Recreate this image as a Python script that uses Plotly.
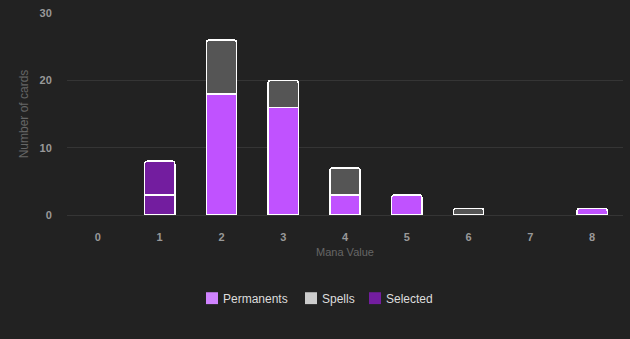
import plotly.graph_objects as go

# Card counts per mana value
mana_values = [0, 1, 2, 3, 4, 5, 6, 7, 8]
permanents = [0, 3, 18, 16, 3, 3, 0, 0, 1]
spells = [0, 5, 8, 4, 4, 0, 1, 0, 0]
selected_value = 1

tick_labels = [str(v) for v in mana_values]
y_ticks = [0, 10, 20, 30]

perm_color = "#c052ff"
spell_color = "#555555"
sel_color = "#731d9f"


def pick(values, keep):
    # Empty segments become None so no outline is drawn for them
    return [val if (keep(v) and val) else None for v, val in zip(mana_values, values)]


perm_plain = pick(permanents, lambda v: v != selected_value)
spell_plain = pick(spells, lambda v: v != selected_value)
perm_sel = pick(permanents, lambda v: v == selected_value)
spell_sel = pick(spells, lambda v: v == selected_value)

line = dict(color="#ffffff", width=1.5)
fig = go.Figure()
for ys, col in [(perm_plain, perm_color), (perm_sel, sel_color),
                (spell_plain, spell_color), (spell_sel, sel_color)]:
    fig.add_trace(go.Bar(x=mana_values, y=ys, marker=dict(color=col, line=line),
                         width=0.49, showlegend=False))

# Legend drawn as swatches + labels below the plot
W, L, T, H = 556, 67, 11, 204
def px_x(p):
    return (p - L) / W
def px_y(p):
    return (T + H - p) / H

legend_items = [("Permanents", "#d083ff", 206), ("Spells", "#cccccc", 305), ("Selected", "#731d9f", 369)]
shapes, annotations = [], []
for name, col, x0 in legend_items:
    shapes.append(dict(type="rect", xref="paper", yref="paper",
                       x0=px_x(x0), x1=px_x(x0 + 12), y0=px_y(305), y1=px_y(293),
                       fillcolor=col, line=dict(width=0)))
    annotations.append(dict(text=name, xref="paper", yref="paper", x=px_x(x0 + 15), y=px_y(299.5),
                            xanchor="left", yanchor="middle", showarrow=False,
                            font=dict(color="#dddddd", size=12,
                                      family="Liberation Sans, Arial, sans-serif")))

tick_font = dict(color="#999999", size=11, weight="bold")

fig.update_layout(
    width=630, height=339,
    barmode="stack",
    barcornerradius=3,
    paper_bgcolor="#222222",
    plot_bgcolor="#222222",
    margin=dict(l=L, r=630 - L - W, t=T, b=339 - T - H),
    font=dict(family="Liberation Sans, Arial, sans-serif", color="#999999", size=11),
    showlegend=False,
    shapes=shapes,
    annotations=annotations,
    xaxis=dict(
        range=[-0.5, 8.5],
        tickmode="array", tickvals=mana_values, ticktext=tick_labels,
        showgrid=False, zeroline=False, showline=False,
        ticks="outside", ticklen=12, tickcolor="rgba(0,0,0,0)",
        tickfont=tick_font,
        title=dict(text="Mana Value", font=dict(color="#666666", size=11), standoff=6),
    ),
    yaxis=dict(
        range=[0, 30],
        tickmode="array", tickvals=y_ticks,
        showgrid=True, gridcolor="#353535", gridwidth=1,
        zeroline=True, zerolinecolor="#353535", zerolinewidth=1,
        ticks="outside", ticklen=12, tickcolor="rgba(0,0,0,0)",
        tickfont=tick_font,
        title=dict(text="Number of cards", font=dict(color="#666666", size=12), standoff=8),
    ),
)

fig.write_html("out.html")
